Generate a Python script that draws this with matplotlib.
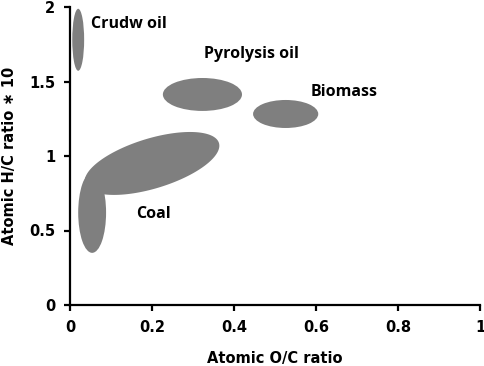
import numpy as np
import matplotlib
matplotlib.use('Agg')
import matplotlib.pyplot as plt
from matplotlib.patches import Ellipse, Polygon

# plain (upright) regions: centre x, centre y, width, height in data units
regions = ['Crude oil', 'Pyrolysis oil', 'Biomass', 'Coal (low)']
cx = [0.020, 0.323, 0.526, 0.054]
cy = [1.780, 1.413, 1.282, 0.620]
widths = [0.029, 0.193, 0.159, 0.068]
heights = [0.416, 0.221, 0.188, 0.540]

# tilted coal region: centre, semi-axes (in pixels) and angle
coal_c = (0.200, 0.950)
coal_semi = (70, 25)
coal_angle = 17

labels = ['Crudw oil', 'Pyrolysis oil', 'Biomass', 'Coal']
label_x = [0.051, 0.327, 0.588, 0.161]
label_y = [1.886, 1.685, 1.430, 0.611]

xticks = [0, 0.2, 0.4, 0.6, 0.8, 1]
xticklabels = ['0', '0.2', '0.4', '0.6', '0.8', '1']
yticks = [0, 0.5, 1, 1.5, 2]
yticklabels = ['0', '0.5', '1', '1.5', '2']

grey = '#7f7f7f'

fig = plt.figure(figsize=(4.84, 3.66), dpi=100)
ax = fig.add_axes([70/484, 1-305/366, 410/484, 298/366])
ax.set_xlim(0, 1)
ax.set_ylim(0, 2)

for x, y, w, h in zip(cx, cy, widths, heights):
    ax.add_patch(Ellipse((x, y), w, h, facecolor=grey, edgecolor='none'))

# tilted ellipse built in pixel space, then mapped back to data coords
px_per_x = 410.0
px_per_y = 149.0
t = np.linspace(0, 2*np.pi, 200)
a, b = coal_semi
th = np.radians(coal_angle)
dx = a*np.cos(t)*np.cos(th) - b*np.sin(t)*np.sin(th)
dy = a*np.cos(t)*np.sin(th) + b*np.sin(t)*np.cos(th)
pts = np.column_stack([coal_c[0] + dx/px_per_x, coal_c[1] + dy/px_per_y])
ax.add_patch(Polygon(pts, closed=True, facecolor=grey, edgecolor='none'))

for lab, x, y in zip(labels, label_x, label_y):
    ax.text(x, y, lab, ha='left', va='center', fontsize=11.5,
            fontweight='bold', family='Open Sans')

ax.spines['top'].set_visible(False)
ax.spines['right'].set_visible(False)
for s in ['left', 'bottom']:
    ax.spines[s].set_linewidth(1.6)

ax.set_xticks(xticks)
ax.set_xticklabels(xticklabels)
ax.set_yticks(yticks)
ax.set_yticklabels(yticklabels)
ax.tick_params(direction='out', length=4.5, width=1.6, labelsize=10.5, pad=6)
for lab in ax.get_xticklabels() + ax.get_yticklabels():
    lab.set_fontweight('bold')

ax.set_xlabel('Atomic O/C ratio', fontsize=10.5, fontweight='bold', labelpad=12)
ax.set_ylabel('Atomic H/C ratio \u2217 10', fontsize=10.5, fontweight='bold', labelpad=9)

fig.savefig('out.png', dpi=100)
